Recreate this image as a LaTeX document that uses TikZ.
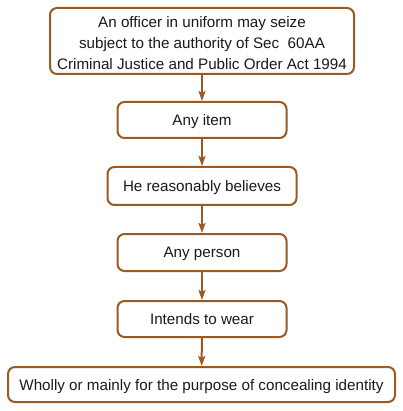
\documentclass[tikz,border=0pt]{standalone}
\usepackage{fontspec}
\setmainfont{Liberation Sans}
\usepackage{tikz}
\usepackage{xcolor}
\usetikzlibrary{arrows.meta,positioning}
\definecolor{rust}{HTML}{9A5A22}
\definecolor{ink}{HTML}{1A1A1A}
\tikzset{
  stepbox/.style={draw=rust,fill=white,line width=2pt,rounded corners=7pt,
                  minimum height=36pt,align=center,inner sep=3pt,text depth=0pt,
                  font=\fontsize{15.2}{20.8}\selectfont,text=ink},
  steparr/.style={-{Stealth[length=10pt,width=7pt,inset=2pt]},line width=2pt,draw=rust}
}
\begin{document}
\begin{tikzpicture}[x=1pt,y=-1pt]
    \path[use as bounding box,fill=white] (0,0) rectangle (402,411);
    \node[stepbox,minimum width=304pt,minimum height=66pt,text height=56.5pt] (officer) at (202,41)
      {An officer in uniform may seize\\subject to the authority of Sec\ \ 60AA\\Criminal Justice and Public Order Act 1994};
    \node[stepbox,minimum width=169pt] (item) at (202,120) {Any item};
    \node[stepbox,minimum width=189pt,minimum height=38pt] (believes) at (202,186)
      {He reasonably believes};
    \node[stepbox,minimum width=169pt,minimum height=37pt] (person) at (202,252.5)
      {Any person};
    \node[stepbox,minimum width=169pt] (wear) at (202,319) {Intends to wear};
    \node[stepbox,minimum width=387pt,minimum height=35pt] (identity) at (201.5,384.5)
      {Wholly or mainly for the purpose of concealing identity};

    \draw[steparr] (officer) -- (item);
    \draw[steparr] (item) -- (believes);
    \draw[steparr] (believes) -- (person);
    \draw[steparr] (person) -- (wear);
    \draw[steparr] (wear) -- (identity);
  \end{tikzpicture}
\end{document}
